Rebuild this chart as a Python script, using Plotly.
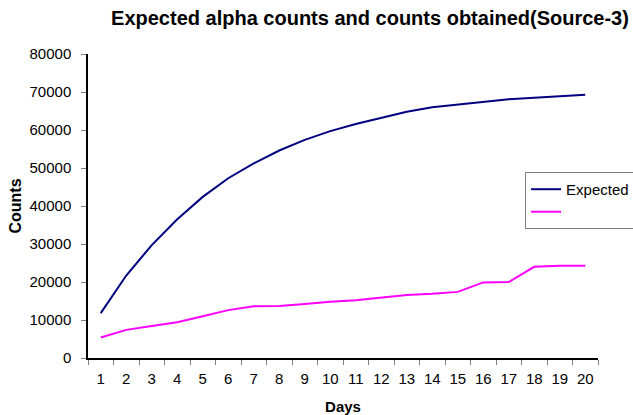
import plotly.graph_objects as go

days = [str(d) for d in range(1, 21)]
expected = [11800, 21700, 29700, 36500, 42400, 47300, 51200, 54600, 57400, 59700,
            61600, 63300, 64800, 66000, 66700, 67500, 68100, 68500, 68900, 69300]
obtained = [5400, 7400, 8400, 9400, 11000, 12600, 13600, 13700, 14200, 14800,
            15200, 15900, 16600, 16900, 17400, 19900, 20000, 24000, 24300, 24300]
y_ticks = [0, 10000, 20000, 30000, 40000, 50000, 60000, 70000, 80000]

font = "Arial, Liberation Sans, sans-serif"

fig = go.Figure()
fig.add_trace(go.Scatter(x=days, y=expected, mode="lines", name="Expected",
                         line=dict(color="#000080", width=2)))
fig.add_trace(go.Scatter(x=days, y=obtained, mode="lines", name=" ",
                         line=dict(color="#FF00FF", width=2)))

fig.update_layout(
    width=633, height=415,
    margin=dict(l=88, r=35, t=54, b=57, autoexpand=False),
    paper_bgcolor="white", plot_bgcolor="white",
    font=dict(family=font, size=15, color="black"),
    title=dict(text="<b>Expected alpha counts and counts obtained(Source-3)</b>",
               x=0.5845, xref="container", xanchor="center",
               y=0.957, yref="container", yanchor="middle",
               font=dict(family=font, size=20, color="black")),
    xaxis=dict(type="category", range=[-0.5, 19.5], tickson="boundaries",
               tickangle=0, ticks="outside", ticklen=5, ticklabelstandoff=6,
               tickcolor="#808080", showline=True, linecolor="black", linewidth=1.5,
               showgrid=False, zeroline=False,
               title=dict(text="<b>Days</b>", standoff=17,
                          font=dict(family=font, size=15))),
    yaxis=dict(range=[0, 80000], tickvals=y_ticks, ticks="outside", ticklen=5,
               ticklabelstandoff=7,
               tickcolor="#808080", showline=True, linecolor="black", linewidth=1.5,
               showgrid=False, zeroline=False, tickformat="d",
               title=dict(text="<b>Counts</b>", standoff=4,
                          font=dict(family=font, size=16))),
    legend=dict(x=0.857, y=0.612, xanchor="left", yanchor="top",
                bordercolor="#808080", borderwidth=1, bgcolor="white",
                font=dict(family=font, size=15), tracegroupgap=0),
    showlegend=True,
)

fig.write_html("out.html")
